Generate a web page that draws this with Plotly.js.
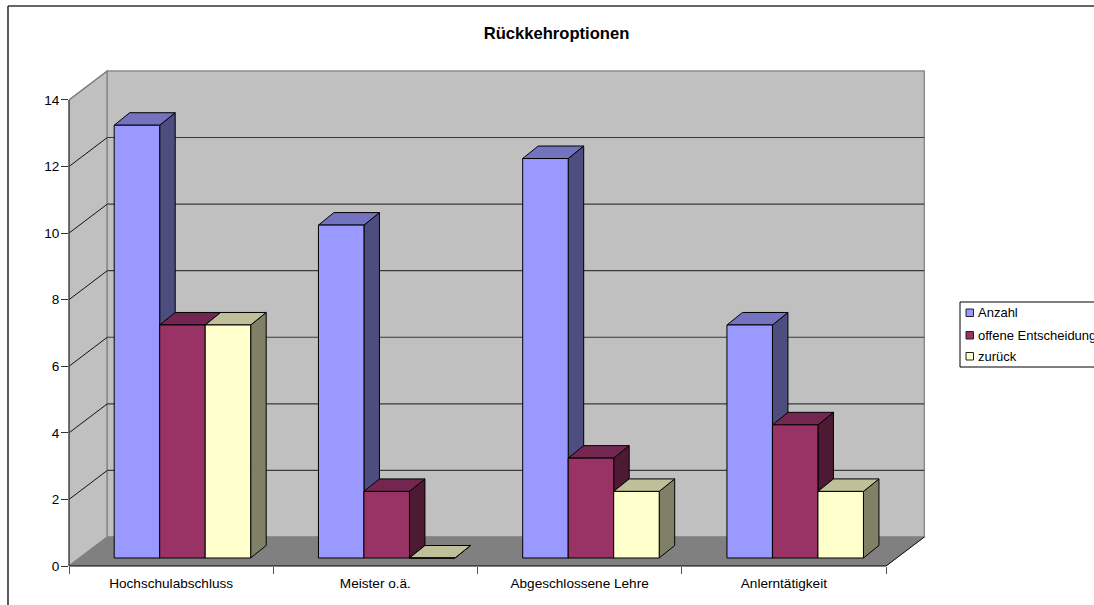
<!DOCTYPE html>
<html><head><meta charset="utf-8">
<script src="https://cdn.plot.ly/plotly-3.0.1.min.js"></script>
<style>html,body{margin:0;padding:0;background:#fff;overflow:hidden}</style></head>
<body><div id="chart" style="width:1094px;height:605px"></div>
<script>
const categories = ['Hochschulabschluss','Meister o.ä.','Abgeschlossene Lehre','Anlerntätigkeit'];
const anzahl = [13,10,12,7];
const offeneEntscheidung = [7,2,3,4];
const zurueck = [7,0,2,2];
const seriesNames = ['Anzahl','offene Entscheidung','zurück'];
const seriesFront = ['#9999FF','#993366','#FFFFCC'];
const seriesTop = ['#7373BF','#732650','#BFBF99'];
const seriesSide = ['#4D4D80','#4D1A33','#808066'];
const yTicks = [0,2,4,6,8,10,12,14];
const allValues = [anzahl, offeneEntscheidung, zurueck];

// geometry in pixels → axis units
const L=69, B=566, CATW=204.25, UNIT=33.29, PR=935, PT=60, W=1094, H=605;
const FS=13.6;
const xMin=-0.5, xMax=xMin+(PR-L)/CATW, yMax=(B-PT)/UNIT;
const wallDx=38.3/CATW, wallDy=29/UNIT;
const barW=45.5/CATW, barStart=45.2/CATW, barBase=8/UNIT;
const barDx=15.5/CATW, barDy=12.5/UNIT;
const px=x=>(x-L)/(PR-L), py=y=>(B-y)/(B-PT);
const poly=(pts)=>'M'+pts.map(p=>p[0]+','+p[1]).join('L')+'Z';

const shapes=[];
const dataShape=(pts,fill,lc,lw)=>shapes.push({type:'path',xref:'x',yref:'y',layer:'below',path:poly(pts),fillcolor:fill,line:{color:lc,width:lw}});
const dataLine=(a,b,c,w)=>shapes.push({type:'line',xref:'x',yref:'y',layer:'below',x0:a[0],y0:a[1],x1:b[0],y1:b[1],line:{color:c,width:w}});
const xEnd=xMin+categories.length, yTop=yTicks[yTicks.length-1];

// walls and floor
dataShape([[xMin,0],[xMin+wallDx,wallDy],[xMin+wallDx,yTop+wallDy],[xMin,yTop]],'#C0C0C0','#808080',1.5);
dataShape([[xMin+wallDx,wallDy],[xEnd+wallDx,wallDy],[xEnd+wallDx,yTop+wallDy],[xMin+wallDx,yTop+wallDy]],'#C0C0C0','#8C8C8C',1.5);
dataShape([[xMin,0],[xEnd,0],[xEnd+wallDx,wallDy],[xMin+wallDx,wallDy]],'#808080','#808080',1);
// gridlines
yTicks.slice(1).forEach(v=>{
  dataLine([xMin,v],[xMin+wallDx,v+wallDy],v===yTop?'#808080':'#111111',1);
  if(v<yTop) dataLine([xMin+wallDx,v+wallDy],[xEnd+wallDx,v+wallDy],'#3A3A3A',1.2);
});
dataLine([xEnd,0],[xEnd+wallDx,wallDy],'#111111',1);

// 3D tops and sides of the bars
categories.forEach((c,i)=>{
  allValues.forEach((vals,j)=>{
    const x0=i+xMin+barStart+j*barW, x1=x0+barW, y0=barBase, y1=barBase+vals[i];
    dataShape([[x1,y0],[x1+barDx,y0+barDy],[x1+barDx,y1+barDy],[x1,y1]],seriesSide[j],'#000000',1);
    dataShape([[x0,y1],[x1,y1],[x1+barDx,y1+barDy],[x0+barDx,y1+barDy]],seriesTop[j],'#000000',1);
  });
});

// axis lines and chart frame (paper referenced so they are not clipped)
const paperLine=(x0,y0,x1,y1,c,w)=>shapes.push({type:'line',xref:'paper',yref:'paper',x0:px(x0),y0:py(y0),x1:px(x1),y1:py(y1),line:{color:c,width:w}});
paperLine(L,B,L+CATW*categories.length,B,'#000000',1.2);
paperLine(L,B,L,B-UNIT*yTop,'#4A4A4A',1.5);
paperLine(8,6,W+4,6,'#333333',1.6);
paperLine(8,6,8,H+4,'#333333',1.6);

// legend
const annotations=[];
const legY=[312.5,335,356];
shapes.push({type:'rect',xref:'paper',yref:'paper',x0:px(960),y0:py(302),x1:px(W+10),y1:py(367),fillcolor:'#FFFFFF',line:{color:'#000000',width:1}});
seriesNames.forEach((n,j)=>{
  shapes.push({type:'rect',xref:'paper',yref:'paper',x0:px(966),x1:px(973.5),y0:py(legY[j]-3.5),y1:py(legY[j]+4),fillcolor:seriesFront[j],line:{color:'#222222',width:1}});
  annotations.push({xref:'paper',yref:'paper',x:px(976),y:py(legY[j]),xanchor:'left',yanchor:'middle',showarrow:false,text:n,font:{family:'Liberation Sans',size:13,color:'#000'}});
});

const traces=allValues.map((vals,j)=>({
  type:'bar',name:seriesNames[j],x:categories,y:vals,base:barBase,
  width:barW,offset:barStart-0.5+j*barW,
  marker:{color:seriesFront[j],line:{color:'#000000',width:1}},
  hoverinfo:'x+y+name',showlegend:false
}));

const layout={
  width:W,height:H,paper_bgcolor:'#FFFFFF',plot_bgcolor:'rgba(0,0,0,0)',
  margin:{l:L,r:W-PR,t:PT,b:H-B,pad:0},showlegend:false,barmode:'overlay',
  title:{text:'<b>Rückkehroptionen</b>',x:556.5/W,xanchor:'center',y:1-33/H,yanchor:'middle',font:{family:'Liberation Sans',size:16.6,color:'#000'}},
  font:{family:'Liberation Sans',size:FS,color:'#000'},
  xaxis:{type:'category',categoryorder:'array',categoryarray:categories,range:[xMin,xMax],tickson:'boundaries',ticks:'outside',ticklen:7,tickcolor:'#555555',tickwidth:1,showgrid:false,zeroline:false,showline:false,fixedrange:true,tickfont:{size:FS},ticklabelstandoff:7},
  yaxis:{range:[0,yMax],tickmode:'array',tickvals:yTicks,ticktext:yTicks.map(String),ticks:'outside',ticklen:7,tickcolor:'#333333',tickwidth:1,showgrid:false,zeroline:false,showline:false,fixedrange:true,tickfont:{size:FS},ticklabelstandoff:-1},
  shapes,annotations
};
Plotly.newPlot('chart',traces,layout,{displayModeBar:false,staticPlot:true});
</script></body></html>
